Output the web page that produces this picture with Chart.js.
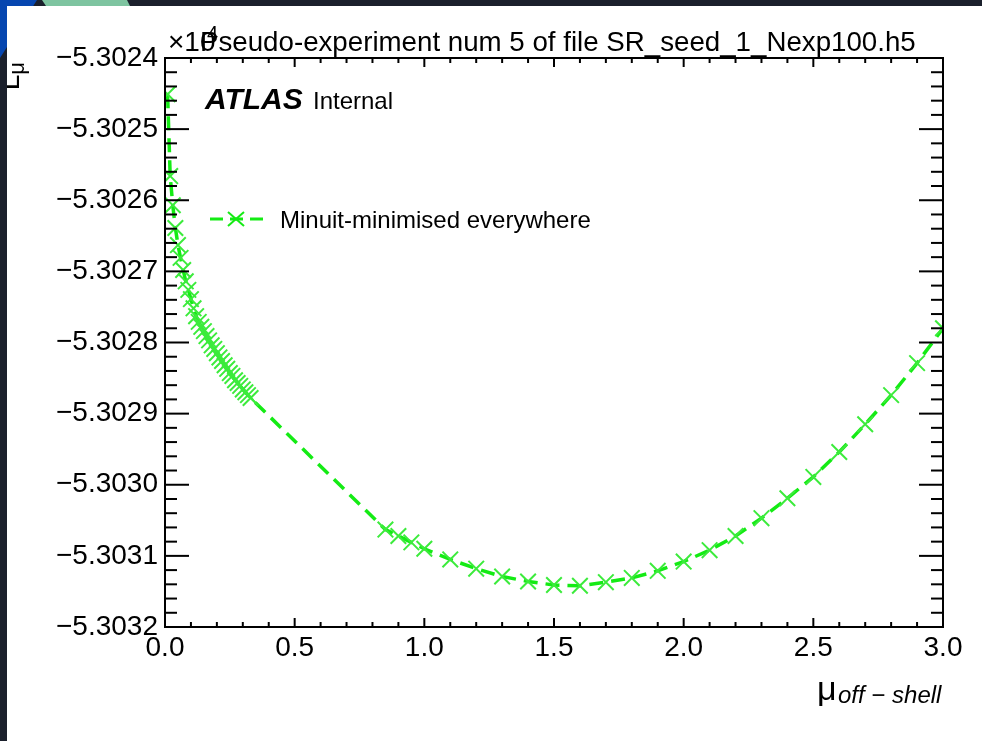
<!DOCTYPE html>
<html>
<head>
<meta charset="utf-8">
<script src="https://cdn.jsdelivr.net/npm/chart.js@4.4.1/dist/chart.umd.min.js"></script>
<style>
  html, body { margin: 0; padding: 0; }
  body { width: 982px; height: 741px; background: #1b202c; position: relative; overflow: hidden; }
  #blue { position: absolute; left: 0; top: 0; width: 60px; height: 60px; background: #0646b0;
          clip-path: polygon(0 0, 37px 0, 0 58px); }
  #teal { position: absolute; left: 0; top: 0; width: 140px; height: 8px; background: #7ec4a0;
          clip-path: polygon(42px 0, 127px 0, 130px 6px, 46px 6px); }
  #sheet { position: absolute; left: 7px; top: 6px; width: 975px; height: 735px; background: #fff; }
</style>
</head>
<body>
<div id="blue"></div>
<div id="teal"></div>
<div id="sheet"><canvas id="nllChart" width="975" height="735"></canvas></div>

<script>
// scan points (y in true units, axis shows them x10^4)
const muValues = [
  0.01, 0.02, 0.03, 0.04, 0.05, 0.06, 0.07, 0.08, 0.09, 0.10,
  0.11, 0.12, 0.13, 0.14, 0.15, 0.16, 0.17, 0.18, 0.19, 0.20,
  0.21, 0.22, 0.23, 0.24, 0.25, 0.26, 0.27, 0.28, 0.29, 0.30,
  0.31, 0.32, 0.33,
  0.85, 0.90, 0.95, 1.0, 1.1, 1.2, 1.3, 1.4, 1.5, 1.6, 1.7, 1.8, 1.9,
  2.0, 2.1, 2.2, 2.3, 2.4, 2.5, 2.6, 2.7, 2.8, 2.9, 3.0
];
const nllValues = [
  -53024.51, -53025.66, -53026.07, -53026.39, -53026.63, -53026.81, -53026.98, -53027.14, -53027.26, -53027.39,
  -53027.52, -53027.63, -53027.71, -53027.78, -53027.84, -53027.91, -53027.97, -53028.04, -53028.09, -53028.15,
  -53028.21, -53028.26, -53028.32, -53028.37, -53028.43, -53028.47, -53028.53, -53028.57, -53028.61, -53028.66,
  -53028.70, -53028.74, -53028.78,
  -53030.63, -53030.72, -53030.81, -53030.90, -53031.05, -53031.18, -53031.29, -53031.36, -53031.41, -53031.42,
  -53031.37, -53031.31, -53031.21,
  -53031.08, -53030.92, -53030.72, -53030.47, -53030.19, -53029.89, -53029.54, -53029.15, -53028.74, -53028.29,
  -53027.80
];

const xMajorTicks = [0.0, 0.5, 1.0, 1.5, 2.0, 2.5, 3.0];
const yMajorTicks = [-53024, -53025, -53026, -53027, -53028, -53029, -53030, -53031, -53032];

const titleText = 'Pseudo-experiment num 5 of file SR_seed_1_Nexp100.h5';
const legendLabel = 'Minuit-minimised everywhere';
const green = 'rgb(20,235,20)';
const FONT = '"Liberation Sans", Arial, Helvetica, sans-serif';

// ROOT-like frame, inner ticks and all the loose text
const rootDecor = {
  id: 'rootDecor',
  afterDraw(chart) {
    const { ctx, chartArea: a, scales: { x, y } } = chart;
    ctx.save();
    ctx.strokeStyle = '#000';
    ctx.lineWidth = 2;

    const seg = (x1, y1, x2, y2) => {
      ctx.beginPath(); ctx.moveTo(x1, y1); ctx.lineTo(x2, y2); ctx.stroke();
    };

    // x ticks, bottom and top
    for (let i = 0; i <= 30; i++) {
      const px = x.getPixelForValue(i / 10);
      const len = i % 5 === 0 ? 9 : 5;
      seg(px, a.bottom, px, a.bottom - len);
      seg(px, a.top, px, a.top + len);
    }
    // y ticks, left and right
    for (let i = 0; i <= 40; i++) {
      const py = y.getPixelForValue(-53032 + i * 0.2);
      const len = i % 5 === 0 ? 24 : 12;
      seg(a.left, py, a.left + len, py);
      seg(a.right, py, a.right - len, py);
    }
    ctx.strokeRect(a.left, a.top, a.right - a.left, a.bottom - a.top);

    ctx.fillStyle = '#000';
    ctx.textBaseline = 'alphabetic';
    ctx.textAlign = 'left';

    // exponent + title
    ctx.font = '28px ' + FONT;
    ctx.fillText('\u00d710', 161, 45);
    ctx.font = '20px ' + FONT;
    ctx.fillText('4', 200, 34);
    ctx.font = '27.7px ' + FONT;
    ctx.fillText(titleText, 193, 45);

    // ATLAS Internal
    ctx.font = 'italic bold 30px ' + FONT;
    ctx.fillText('ATLAS', 198, 103);
    ctx.font = '24px ' + FONT;
    ctx.fillText('Internal', 306, 103);

    // legend entry
    const ly = 213;
    ctx.strokeStyle = green;
    ctx.lineWidth = 3;
    ctx.setLineDash([13, 7]);
    seg(203, ly, 256, ly);
    ctx.setLineDash([]);
    ctx.lineWidth = 2;
    seg(221, ly - 7, 237, ly + 7);
    seg(221, ly + 7, 237, ly - 7);
    ctx.font = '24px ' + FONT;
    ctx.fillText(legendLabel, 273, ly + 9);

    // x axis title
    ctx.font = '34px ' + FONT;
    ctx.fillText('\u03bc', 810, 694);
    ctx.font = 'italic 24px ' + FONT;
    ctx.fillText('off \u2212 shell', 831, 697);

    // y axis title, mostly outside the page
    ctx.save();
    ctx.translate(12, 56);
    ctx.rotate(-Math.PI / 2);
    ctx.textAlign = 'right';
    ctx.font = '22px ' + FONT;
    ctx.fillText('\u03bc', 0, 5);
    const wMu = ctx.measureText('\u03bc').width;
    ctx.font = '28px ' + FONT;
    ctx.fillText('L', -wMu, 0);
    ctx.restore();

    ctx.restore();
  }
};

const ctx = document.getElementById('nllChart').getContext('2d');
new Chart(ctx, {
  type: 'scatter',
  data: {
    datasets: [{
      label: legendLabel,
      data: muValues.map((m, i) => ({ x: m, y: nllValues[i] })),
      showLine: true,
      borderColor: green,
      borderWidth: 3.5,
      borderDash: [14, 8],
      pointStyle: 'crossRot',
      pointRadius: 11,
      pointBorderWidth: 2,
      pointBorderColor: 'rgb(60,235,60)',
      pointBackgroundColor: green,
      clip: 0
    }]
  },
  options: {
    responsive: false,
    devicePixelRatio: 1,
    animation: false,
    layout: { padding: { top: 52, right: 39, left: 0, bottom: 0 } },
    plugins: {
      legend: { display: false },
      tooltip: { enabled: false }
    },
    scales: {
      x: {
        type: 'linear',
        min: 0,
        max: 3,
        afterBuildTicks: s => { s.ticks = xMajorTicks.map(v => ({ value: v })); },
        afterFit: s => { s.height = 114; },
        grid: { display: false, drawTicks: false },
        border: { display: false },
        ticks: {
          color: '#000',
          padding: 4,
          maxRotation: 0,
          font: { family: FONT, size: 28 },
          callback: v => v.toFixed(1)
        }
      },
      y: {
        type: 'linear',
        min: -53032,
        max: -53024,
        afterBuildTicks: s => { s.ticks = yMajorTicks.map(v => ({ value: v })); },
        afterFit: s => { s.width = 158; },
        grid: { display: false, drawTicks: false },
        border: { display: false },
        ticks: {
          color: '#000',
          padding: 7,
          font: { family: FONT, size: 28 },
          callback: v => (v / 1e4).toFixed(4).replace('-', '\u2212')
        }
      }
    }
  },
  plugins: [rootDecor]
});
</script>
</body>
</html>
